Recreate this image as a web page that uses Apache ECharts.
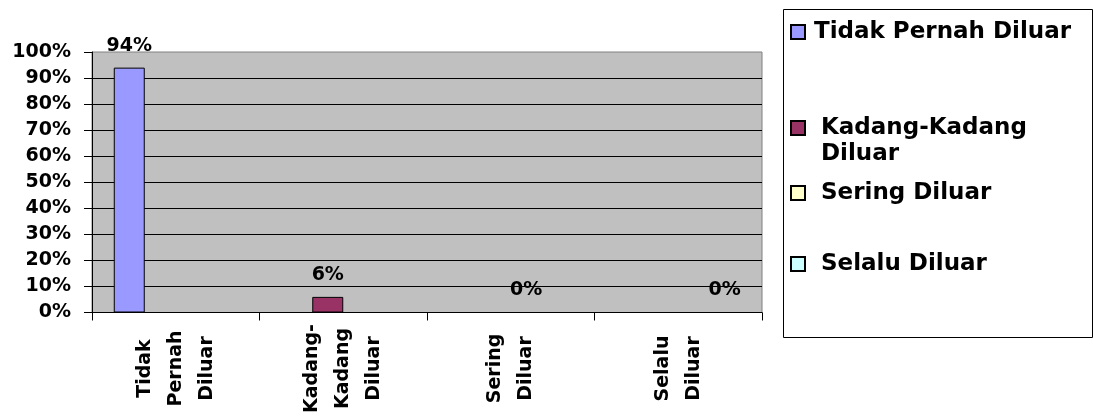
<!DOCTYPE html>
<html>
<head>
<meta charset="utf-8">
<script src="https://cdn.jsdelivr.net/npm/echarts@6/dist/echarts.min.js"></script>
<style>html,body{margin:0;padding:0;background:#fff}#c{width:1093px;height:416px}</style>
</head>
<body>
<div id="c"></div>
<script>
var categories = ['Tidak Pernah Diluar', 'Kadang-Kadang Diluar', 'Sering Diluar', 'Selalu Diluar'];
var xTickLabels = ['Tidak\nPernah\nDiluar', 'Kadang-\nKadang\nDiluar', 'Sering\nDiluar', 'Selalu\nDiluar'];
var legendLabels = ['Tidak Pernah Diluar', '\nKadang-Kadang\nDiluar', 'Sering Diluar', 'Selalu Diluar'];
var seriesColors = ['#9999FF', '#993366', '#FFFFCC', '#CCFFFF'];
var tidakPernah = [94, null, null, null];
var kadangKadang = [null, 6, null, null];
var sering = [null, null, 0, null];
var selalu = [null, null, null, 0];
var seriesValues = [tidakPernah, kadangKadang, sering, selalu];

var FONT = 'DejaVu Sans';
var chart = echarts.init(document.getElementById('c'), null, {renderer: 'canvas'});

var series = categories.map(function (name, i) {
  return {
    name: name,
    type: 'bar',
    data: seriesValues[i],
    barGap: '0%',
    barCategoryGap: '26%',
    itemStyle: {color: seriesColors[i], borderColor: '#000', borderWidth: 1},
    label: {
      show: true, position: 'top', distance: 12, color: '#000',
      fontFamily: FONT, fontWeight: 'bold', fontSize: 19,
      formatter: function (p) { return p.value + '%'; }
    }
  };
});

var legendTops = [19, 89, 180, 251];
var legendPad = [[0,0,0,4], [0,0,0,11], [0,0,0,11], [0,0,0,11]];
var legends = categories.map(function (name, i) {
  return {
    data: [name],
    left: 790, top: legendTops[i], padding: 0,
    orient: 'vertical', icon: 'rect', itemWidth: 14, itemHeight: 14,
    selectedMode: false,
    formatter: function () { return legendLabels[i]; },
    textStyle: {fontFamily: FONT, fontWeight: 'bold', fontSize: 23, color: '#000', lineHeight: 26, padding: legendPad[i]}
  };
});

chart.setOption({
  animation: false,
  backgroundColor: '#fff',
  grid: {left: 92, top: 52, right: 331, bottom: 101, show: true, backgroundColor: '#C0C0C0', borderColor: '#808080', borderWidth: 1},
  legend: legends,
  graphic: [{
    type: 'rect', left: 783, top: 9, z: -1,
    shape: {width: 309, height: 328},
    style: {fill: '#fff', stroke: '#000', lineWidth: 1}
  }],
  xAxis: {
    type: 'category', data: categories,
    axisLine: {lineStyle: {color: '#000', width: 1}},
    axisTick: {show: true, length: 8, lineStyle: {color: '#000'}},
    axisLabel: {
      interval: 0, rotate: 90, margin: 56, align: 'center', verticalAlign: 'middle',
      fontFamily: FONT, fontWeight: 'bold', fontSize: 19, lineHeight: 31, color: '#000',
      formatter: function (v, idx) { return xTickLabels[idx]; }
    }
  },
  yAxis: {
    type: 'value', min: 0, max: 100, interval: 10,
    axisLine: {show: true, lineStyle: {color: '#000', width: 1}},
    axisTick: {show: true, length: 8, lineStyle: {color: '#000'}},
    splitLine: {show: true, showMaxLine: false, lineStyle: {color: '#000', width: 1}},
    axisLabel: {margin: 21, fontFamily: FONT, fontWeight: 'bold', fontSize: 19, color: '#000', formatter: '{value}%'}
  },
  series: series
});
</script>
</body>
</html>
